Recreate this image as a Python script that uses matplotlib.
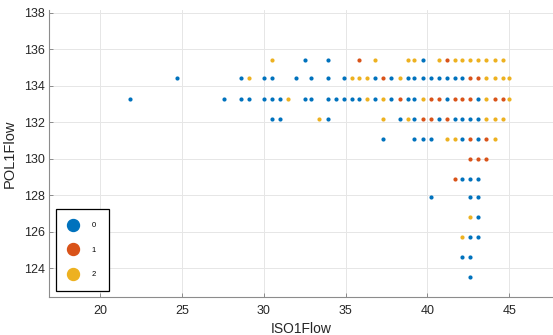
import matplotlib
matplotlib.use("Agg")
import matplotlib.pyplot as plt
from matplotlib.lines import Line2D

plt.rcParams['font.family'] = ['Liberation Sans', 'DejaVu Sans']

# group 0 (blue)
x0 = [32.5, 33.9, 39.7,
      24.7, 28.6, 30.0, 30.5, 32.0, 32.9, 33.9, 34.9, 36.8, 37.8, 38.8, 39.2, 39.7, 40.2, 40.7, 41.2, 41.7, 42.1,
      21.8, 27.6, 28.6, 29.1, 30.0, 30.5, 31.0, 32.5, 32.9, 33.9, 34.4, 34.9, 35.4, 35.8, 36.8, 37.8, 38.8, 39.2, 41.2, 43.1,
      30.5, 31.0, 33.9, 38.3, 39.2, 40.7, 41.7, 42.1, 42.6, 43.1,
      37.3, 39.2, 39.7, 40.2, 42.1, 43.1,
      42.1, 42.6, 43.1,
      40.2, 42.6, 43.1,
      43.1,
      42.6, 43.1,
      42.1, 42.6,
      42.6]
y0 = [135.4] * 3 + [134.4] * 18 + [133.3] * 20 + [132.2] * 10 + [131.1] * 6 + \
     [128.9] * 3 + [127.9] * 3 + [126.8] * 1 + [125.7] * 2 + [124.6] * 2 + [123.5] * 1

# group 1 (red)
x1 = [35.8, 41.2,
      37.3, 42.6, 43.1,
      38.3, 40.2, 40.7, 41.7, 42.1, 42.6, 44.1, 44.6,
      39.7, 40.2, 41.2,
      42.6, 43.6,
      42.6, 43.1, 43.6,
      41.7]
y1 = [135.4] * 2 + [134.4] * 3 + [133.3] * 8 + [132.2] * 3 + [131.1] * 2 + [130.0] * 3 + [128.9] * 1

# group 2 (yellow)
x2 = [30.5, 36.8, 38.8, 39.2, 40.7, 41.7, 42.1, 42.6, 43.1, 43.6, 44.1, 44.6,
      29.1, 35.4, 35.8, 36.3, 38.3, 43.6, 44.1, 44.6, 45.0,
      31.5, 36.3, 37.3, 39.7, 43.6, 45.0,
      33.4, 37.3, 38.8, 43.6, 44.1, 44.6,
      41.2, 41.7, 44.1,
      42.6,
      42.1]
y2 = [135.4] * 12 + [134.4] * 9 + [133.3] * 6 + [132.2] * 6 + [131.1] * 3 + [126.8] * 1 + [125.7] * 1

groups = ['0', '1', '2']
colors = ['#0072BD', '#D95319', '#EDB120']

fig = plt.figure(figsize=(5.53, 3.35), dpi=100)
ax = fig.add_axes([49 / 553, 38.3 / 335, 504 / 553, 286.7 / 335])

for xs, ys, c in zip([x0, x1, x2], [y0, y1, y2], colors):
    ax.scatter(xs, ys, s=9, color=c, linewidths=0, zorder=3)

ax.set_xlim(16.88, 47.67)
ax.set_ylim(122.44, 138.15)
ax.set_xticks(range(20, 46, 5))
ax.set_yticks(range(124, 139, 2))
ax.grid(True, color='#e6e6e6', linewidth=0.7, zorder=0)
ax.set_axisbelow(True)

for s in ['top', 'right']:
    ax.spines[s].set_visible(False)
for s in ['left', 'bottom']:
    ax.spines[s].set_color('#8c8c8c')
    ax.spines[s].set_linewidth(0.8)
ax.tick_params(direction='in', length=3, width=0.7, color='#8c8c8c',
               labelsize=9, labelcolor='#262626')
ax.tick_params(axis='x', pad=6)
ax.tick_params(axis='y', pad=3)

ax.set_xlabel('ISO1Flow', fontsize=10, color='#262626')
ax.set_ylabel('POL1Flow', fontsize=10.5, color='#262626')
ax.xaxis.set_label_coords(0.5, -0.088)
ax.yaxis.set_label_coords(-0.063, 0.5)

handles = [Line2D([], [], linestyle='none', marker='o', markersize=8.6,
                  markerfacecolor=c, markeredgecolor=c) for c in colors]
leg = ax.legend(handles, groups, loc='lower left', bbox_to_anchor=(0.013, 0.02),
                borderaxespad=0, fontsize=5.5, frameon=True, fancybox=False,
                borderpad=1.65, labelspacing=2.25, handlelength=1.3,
                handletextpad=1.8)
leg.get_frame().set_edgecolor('black')
leg.get_frame().set_linewidth(0.9)
leg.get_frame().set_facecolor('white')
leg.get_frame().set_alpha(1)

fig.savefig('out.png', dpi=100)
